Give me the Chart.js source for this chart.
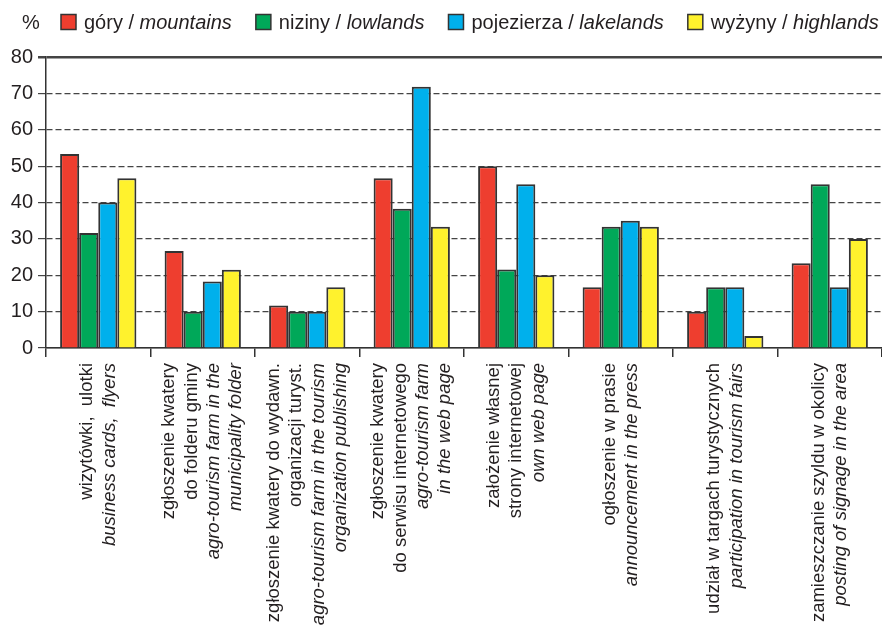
<!DOCTYPE html>
<html>
<head>
<meta charset="utf-8">
<script src="https://cdn.jsdelivr.net/npm/chart.js@4/dist/chart.umd.min.js"></script>
<style>
  html, body { margin: 0; padding: 0; background: #fff; }
  #wrap { width: 882px; height: 642px; }
</style>
</head>
<body>
<div id="wrap"><canvas id="chart" width="882" height="642"></canvas></div>
<script>
// Series names (Polish / English)
const seriesPl = ['góry', 'niziny', 'pojezierza', 'wyżyny'];
const seriesEn = ['mountains', 'lowlands', 'lakelands', 'highlands'];
const seriesColors = ['#ee3e2f', '#00a859', '#00b0ec', '#fff22d'];

// Category labels, Polish lines then English (italic) lines
const catPl = [
    ['wizytówki,  ulotki'],
    ['zgłoszenie kwatery', 'do folderu gminy'],
    ['zgłoszenie kwatery do wydawn.', 'organizacji turyst.'],
    ['zgłoszenie kwatery', 'do serwisu internetowego'],
    ['założenie własnej', 'strony internetowej'],
    ['ogłoszenie w prasie'],
    ['udział w targach turystycznych'],
    ['zamieszczanie szyldu w okolicy']
];
const catEn = [
    ['business cards,  flyers'],
    ['agro-tourism farm in the', 'municipality folder'],
    ['agro-tourism farm in the tourism', 'organization publishing'],
    ['agro-tourism farm', 'in the web page'],
    ['own web page'],
    ['announcement in the press'],
    ['participation in tourism fairs'],
    ['posting of signage in the area']
];

// Values in %
const mountains = [53.3, 26.7, 11.7, 46.7, 50.0, 16.7, 10.0, 23.3];
const lowlands  = [31.6, 10.0, 10.0, 38.3, 21.6, 33.3, 16.7, 45.0];
const lakelands = [40.0, 18.3, 10.0, 71.8, 45.0, 35.0, 16.7, 16.7];
const highlands = [46.7, 21.5, 16.7, 33.3, 20.0, 33.3, 3.3, 30.0];

const yTicks = [0, 10, 20, 30, 40, 50, 60, 70, 80];

const FONT = '"Liberation Sans", Arial, Helvetica, sans-serif';
const TEXT = '#231f20';

const values = [mountains, lowlands, lakelands, highlands];

// legend drawn by hand so the English part can be italic
const legendPlugin = {
    id: 'mixedLegend',
    afterDraw(chart) {
        const ctx = chart.ctx;
        ctx.save();
        ctx.textBaseline = 'middle';
        ctx.fillStyle = TEXT;
        ctx.font = '20px ' + FONT;
        ctx.fillText('%', 22, 23);
        let x = 61;
        const y = 22;
        seriesPl.forEach((pl, i) => {
            ctx.fillStyle = seriesColors[i];
            ctx.fillRect(x, y - 7.5, 15, 15);
            ctx.strokeStyle = '#333';
            ctx.lineWidth = 1.5;
            ctx.strokeRect(x, y - 7.5, 15, 15);
            x += 23;
            ctx.fillStyle = TEXT;
            ctx.font = '20px ' + FONT;
            const a = pl + ' / ';
            ctx.fillText(a, x, y + 1);
            x += ctx.measureText(a).width;
            ctx.font = 'italic 20px ' + FONT;
            ctx.fillText(seriesEn[i], x, y + 1);
            x += ctx.measureText(seriesEn[i]).width + 24;
        });
        ctx.restore();
    }
};

// rotated multi-line category labels
const labelPlugin = {
    id: 'rotLabels',
    afterDraw(chart) {
        const ctx = chart.ctx;
        const xs = chart.scales.x;
        const top = chart.chartArea.bottom + 15;
        const step = 22.3;
        ctx.save();
        ctx.fillStyle = TEXT;
        ctx.textAlign = 'right';
        ctx.textBaseline = 'middle';
        catPl.forEach((pl, i) => {
            const lines = pl.map(t => [t, false]).concat(catEn[i].map(t => [t, true]));
            const cx = xs.getPixelForValue(i);
            lines.forEach((ln, j) => {
                const off = (j - (lines.length - 1) / 2) * step;
                ctx.save();
                ctx.translate(cx + off, top);
                ctx.rotate(-Math.PI / 2);
                ctx.font = (ln[1] ? 'italic ' : '') + '18.5px ' + FONT;
                ctx.fillText(ln[0], 0, 0);
                ctx.restore();
            });
        });
        ctx.restore();
    }
};

new Chart(document.getElementById('chart'), {
    type: 'bar',
    data: {
        labels: catPl.map(l => l.join(' ')),
        datasets: seriesPl.map((pl, i) => ({
            label: pl + ' / ' + seriesEn[i],
            data: values[i],
            backgroundColor: seriesColors[i],
            borderColor: '#333',
            borderWidth: 2,
            categoryPercentage: 0.73,
            barPercentage: 1.0
        }))
    },
    options: {
        responsive: false,
        animation: false,
        layout: { padding: { top: 57, left: 0, right: -3, bottom: 0 } },
        plugins: {
            legend: { display: false },
            tooltip: { enabled: false }
        },
        scales: {
            x: {
                ticks: { display: false },
                grid: {
                    offset: true,
                    drawOnChartArea: false,
                    drawTicks: true,
                    tickLength: 9,
                    color: '#333',
                    lineWidth: 1.5
                },
                border: { color: '#333', width: 1.5 },
                afterFit(scale) { scale.height = 294; }
            },
            y: {
                min: 0,
                max: 80,
                afterBuildTicks(scale) { scale.ticks = yTicks.map(v => ({ value: v })); },
                ticks: {
                    color: TEXT,
                    padding: 5,
                    font: { family: FONT, size: 20 }
                },
                grid: {
                    color: '#444',
                    lineWidth: ctx => (ctx.tick && ctx.tick.value === 80) ? 2.5 : 1.2,
                    tickLength: 8
                },
                border: {
                    color: '#333',
                    width: 1.5,
                    dash: ctx => (ctx.tick && (ctx.tick.value === 80 || ctx.tick.value === 0)) ? [] : [6, 3]
                },
                afterFit(scale) { scale.width = 46; }
            }
        }
    },
    plugins: [legendPlugin, labelPlugin]
});
</script>
</body>
</html>
